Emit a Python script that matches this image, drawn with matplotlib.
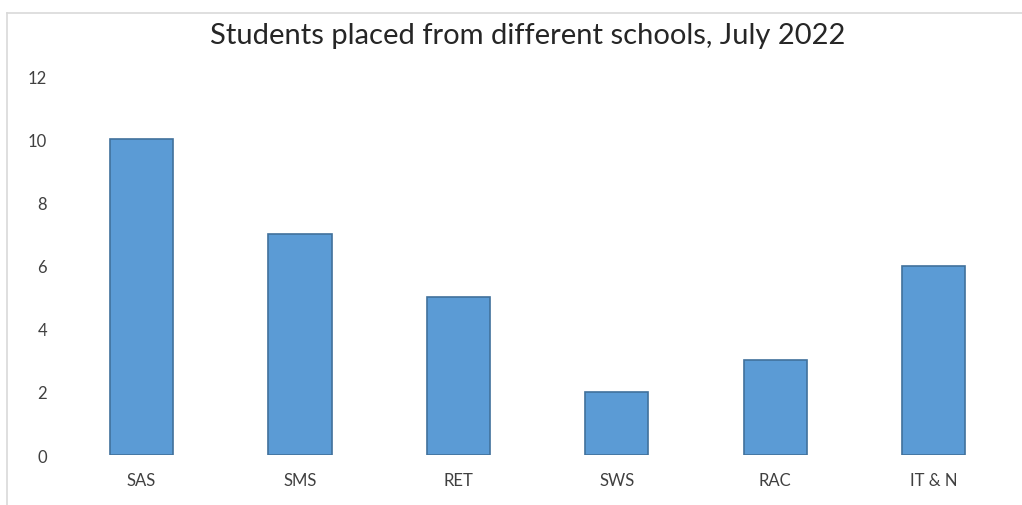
import matplotlib.pyplot as plt
from matplotlib.lines import Line2D

schools = ['SAS', 'SMS', 'RET', 'SWS', 'RAC', 'IT & N']
placed = [10, 7, 5, 2, 3, 6]
y_ticks = [0, 2, 4, 6, 8, 10, 12]

plt.rcParams['font.family'] = ['Lato', 'DejaVu Sans']

fig = plt.figure(figsize=(10.22, 5.06), dpi=100)
ax = fig.add_axes([0.061, 0.0988, 0.930, 0.749])

ax.bar(range(len(schools)), placed, width=0.4, color='#5B9BD5',
       edgecolor='#41719C', linewidth=1.2)

ax.set_xlim(-0.5, len(schools) - 0.5)
ax.set_ylim(0, 12)
ax.set_yticks(y_ticks)
ax.set_xticks(range(len(schools)))
ax.set_xticklabels(schools)
ax.tick_params(axis='both', length=0, labelsize=12, colors='#404040')
ax.tick_params(axis='x', pad=12)
ax.tick_params(axis='y', pad=11)
for s in ax.spines.values():
    s.set_visible(False)

fig.suptitle('Students placed from different schools, July 2022', x=0.516, y=0.955,
             fontsize=21, color='#262626')

# chart area border (top and left edge visible)
fig.add_artist(Line2D([0.007, 1.0], [0.973, 0.973], color='#d9d9d9', lw=1.2,
                      transform=fig.transFigure))
fig.add_artist(Line2D([0.007, 0.007], [0.0, 0.973], color='#d9d9d9', lw=1.2,
                      transform=fig.transFigure))

fig.savefig('out.png', dpi=100)
